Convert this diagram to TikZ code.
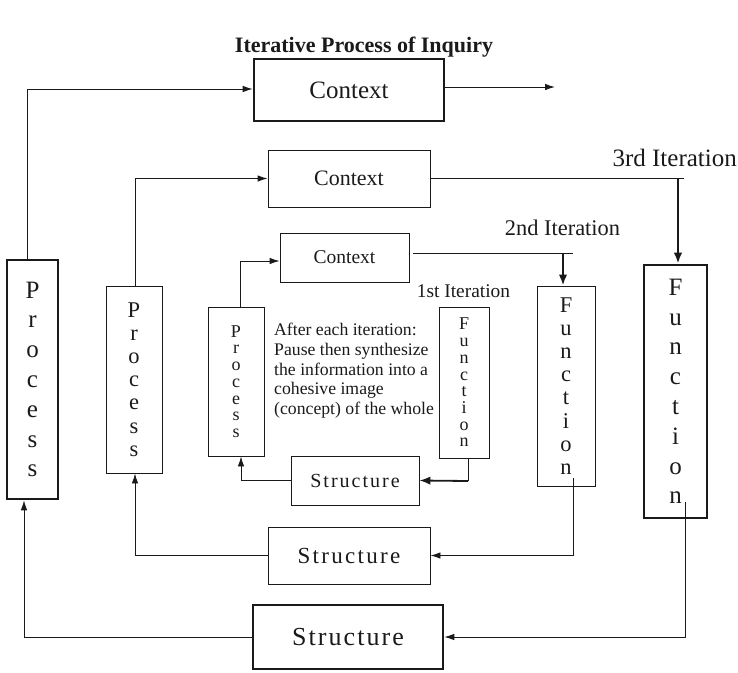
\documentclass[tikz,border=0pt]{standalone}
\usepackage{fontspec}
\setmainfont{Liberation Serif}
\usetikzlibrary{arrows.meta}
\definecolor{ipInk}{HTML}{1A1A1A}
\tikzset{
  box/.style      ={draw=ipInk,line width=0.9pt,inner sep=0pt,align=center,text=ipInk},
  heavybox/.style ={box,line width=2.6pt},
  %% stacked letters, one size per iteration
  stackA/.style   ={box,font=\fontsize{18}{16.7}\selectfont},
  stackB/.style   ={box,font=\fontsize{22.5}{23.2}\selectfont},
  stackC/.style   ={heavybox,font=\fontsize{25}{29.8}\selectfont},
  ctxA/.style     ={box,font=\fontsize{19.5}{23}\selectfont},
  ctxB/.style     ={box,font=\fontsize{22}{26}\selectfont},
  ctxC/.style     ={heavybox,font=\fontsize{25}{30}\selectfont},
  strA/.style     ={box,font=\fontsize{20}{23}\selectfont\addfontfeature{LetterSpace=10}},
  strB/.style     ={box,font=\fontsize{23}{26}\selectfont\addfontfeature{LetterSpace=10}},
  strC/.style     ={heavybox,font=\fontsize{26}{30}\selectfont\addfontfeature{LetterSpace=8}},
  flow/.style     ={-{Latex[length=10pt,width=6.5pt]},ipInk,line width=0.9pt},
  push/.style     ={-{Latex[length=11pt,width=8.5pt]},ipInk,line width=2.6pt},
  wire/.style     ={ipInk,line width=0.9pt},
  ilbl/.style     ={text=ipInk,inner sep=0pt},
}
\begin{document}
\begin{tikzpicture}[x=1pt,y=-1pt]
\useasboundingbox (0,0) rectangle (738,672);

\node[ilbl,font=\fontsize{22}{26}\selectfont\bfseries] (title) at (364,47) {Iterative Process of Inquiry};

%% 3rd iteration
\node[ctxC,minimum width=190pt,minimum height=62pt] (ctx3) at (349,90) {Context};
\node[stackC,minimum width=51pt,minimum height=239pt] (proc3) at (32.5,379.5) {P\\r\\o\\c\\e\\s\\s};
\node[stackC,minimum width=63pt,minimum height=253pt] (fn3) at (675.5,391.5) {F\\u\\n\\c\\t\\i\\o\\n};
\node[strC,minimum width=190pt,minimum height=64pt] (str3) at (348,637) {Structure};

%% 2nd iteration
\node[ctxB,minimum width=162pt,minimum height=57pt] (ctx2) at (349,178.5) {Context};
\node[stackB,minimum width=56pt,minimum height=187pt] (proc2) at (134,379.5) {P\\r\\o\\c\\e\\s\\s};
\node[stackB,minimum width=58pt,minimum height=200pt] (fn2) at (566,386) {F\\u\\n\\c\\t\\i\\o\\n};
\node[strB,minimum width=162pt,minimum height=57pt] (str2) at (349,555.5) {Structure};

%% 1st iteration
\node[ctxA,minimum width=129pt,minimum height=49pt] (ctx1) at (344.5,257.5) {Context};
\node[stackA,minimum width=56pt,minimum height=149pt] (proc1) at (236,381.5) {P\\r\\o\\c\\e\\s\\s};
\node[stackA,minimum width=50pt,minimum height=151pt] (fn1) at (464,382.5) {F\\u\\n\\c\\t\\i\\o\\n};
\node[strA,minimum width=128pt,minimum height=49pt] (str1) at (355,480.5) {Structure};

\node[ilbl,font=\fontsize{25}{30}\selectfont,anchor=east] (lbl3) at (737,158) {3rd Iteration};
\node[ilbl,font=\fontsize{22.4}{26}\selectfont] (lbl2) at (562.5,228) {2nd Iteration};
\node[ilbl,font=\fontsize{19.4}{23}\selectfont] (lbl1) at (463.5,291) {1st Iteration};
\node[ilbl,font=\fontsize{17.7}{19.75}\selectfont,align=left,anchor=north west] (note) at (274,323)
{After each iteration:\\Pause then synthesize\\the information into a\\cohesive image\\(concept) of the whole};

%% connectors
\coordinate (exit) at (555,87);
\draw[flow] ([yshift=3pt]ctx3.east) -- (exit);
\draw[flow] ([xshift=-5.5pt]proc3.north) |- ([yshift=1pt]ctx3.west);
\draw[flow] ([xshift=1pt]proc2.north) |- (ctx2.west);
\draw[flow] ([xshift=4pt]proc1.north) |- ([yshift=-3.5pt]ctx1.west);

\coordinate (turn3) at (684,178.5);
\coordinate (drop3) at (678,178.5);
\draw[wire] (ctx2.east) -- (turn3);
\draw[push] (drop3) -- (drop3 |- fn3.north);

\coordinate (turn2) at (573,253);
\coordinate (drop2) at (563,253);
\draw[wire] ([xshift=4pt,yshift=4.5pt]ctx1.east) -- (turn2);
\draw[push] (drop2) -- (drop2 |- fn2.north);

\coordinate (bend1) at (468,481);
\draw[wire] ([xshift=4pt]fn1.south) -- (bend1);
\draw[push,line width=1.8pt] (bend1) -- (str1.east);
\draw[flow] (str1.west) -| ([xshift=5pt]proc1.south);

\draw[flow] ([xshift=7pt,yshift=8pt]fn2.south) |- (str2.east);
\draw[flow] (str2.west) -| ([xshift=1pt]proc2.south);
\draw[flow] ([xshift=9.5pt,yshift=17pt]fn3.south) |- (str3.east);
\draw[flow] (str3.west) -| ([xshift=-8.5pt]proc3.south);
\end{tikzpicture}
\end{document}
